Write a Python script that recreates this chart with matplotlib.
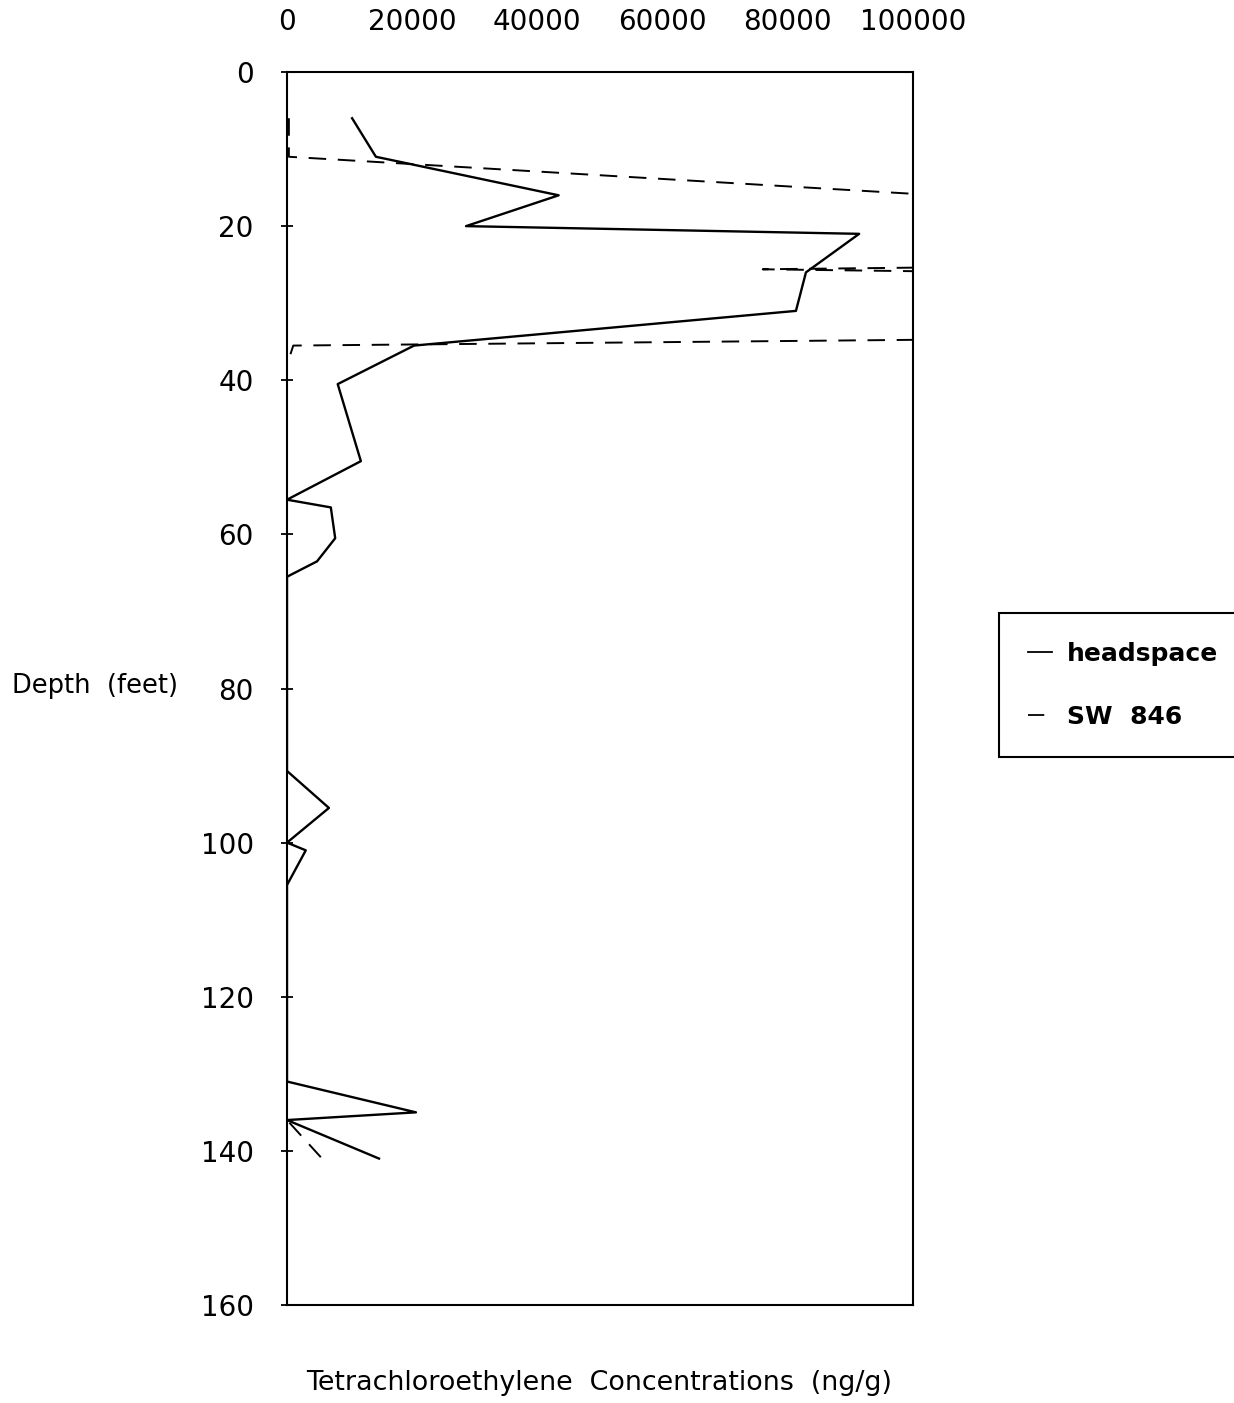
from pathlib import Path

import matplotlib

matplotlib.use("Agg")
import matplotlib.pyplot as plt
from matplotlib.lines import Line2D


OUT_PATH = Path("out.png")

# headspace readings (solid line), depth in feet / concentration in ng/g
HEADSPACE_DEPTH = [6, 11, 16, 20, 21, 26, 31, 35.5, 40.5, 50.5, 55.5, 56.5,
                   60.5, 63.5, 65.5, 90.7, 95.5, 100, 101, 105.5, 131, 135, 136, 141]
HEADSPACE_CONC = [10400, 14200, 43400, 28600, 91400, 82900, 81300, 20300, 8100, 11800, 0, 7000,
                  7700, 4800, 0, 0, 6700, 0, 3000, 0, 0, 20600, 0, 14700]

# SW 846 method readings (dashed line); several run far off the 100000 scale
SW846_DEPTH = [6, 11, 16, 21, 25.6, 31, 35.5, 38, 136, 141]
SW846_CONC = [300, 300, 104000, 600000, 76000, 600000, 1000, 0, 0, 5600]

X_TICKS = [0, 20000, 40000, 60000, 80000, 100000]
Y_TICKS = [0, 20, 40, 60, 80, 100, 120, 140, 160]
Y_TICK_LABELS = ["0", "20", "40", "60", "80", "100", "120", "140", "160"]

W_PX, H_PX = 1234, 1403
DASH = (0, (9, 6))


def fx(px: float) -> float:
    return px / W_PX


def fy(py: float) -> float:
    return 1 - py / H_PX


def main() -> None:
    fig = plt.figure(figsize=(W_PX / 100, H_PX / 100), dpi=100)
    fig.patch.set_facecolor("white")
    ax = fig.add_axes([fx(287), fy(1305), fx(913) - fx(287), fy(72) - fy(1305)])

    ax.plot(HEADSPACE_CONC, HEADSPACE_DEPTH, color="black", linewidth=1.7)
    ax.plot(SW846_CONC, SW846_DEPTH, color="black", linewidth=1.4, linestyle=DASH)

    ax.set_xlim(0, 100000)
    ax.set_ylim(160, 0)

    ax.xaxis.tick_top()
    ax.set_xticks(X_TICKS)
    ax.set_xticklabels([str(v) for v in X_TICKS])
    ax.tick_params(axis="x", which="both", length=0, pad=26, labelsize=20)

    ax.set_yticks(Y_TICKS)
    ax.set_yticklabels(Y_TICK_LABELS)
    ax.tick_params(axis="y", direction="inout", length=8, width=1.3, pad=20, labelsize=20)

    for s in ax.spines.values():
        s.set_linewidth(1.5)
        s.set_color("black")

    fig.text(fx(12), fy(686), "Depth  (feet)", fontsize=18.5, ha="left", va="center")
    fig.text(fx(599), fy(1383), "Tetrachloroethylene  Concentrations  (ng/g)",
             fontsize=19.4, ha="center", va="center")

    handles = [
        Line2D([], [], color="black", linewidth=1.3),
        Line2D([], [], color="black", linewidth=1.3, linestyle=DASH),
    ]
    leg = fig.legend(
        handles, ["headspace", "SW  846"],
        loc="upper left", bbox_to_anchor=(fx(999), fy(613)), borderaxespad=0,
        prop={"size": 18, "weight": "bold"},
        handlelength=0.96, handletextpad=0.6, labelspacing=1.55, borderpad=1.15,
        fancybox=False, framealpha=1, edgecolor="black",
    )
    leg.get_frame().set_linewidth(1.5)

    fig.savefig(OUT_PATH, dpi=100)
    plt.close(fig)


if __name__ == "__main__":
    main()
